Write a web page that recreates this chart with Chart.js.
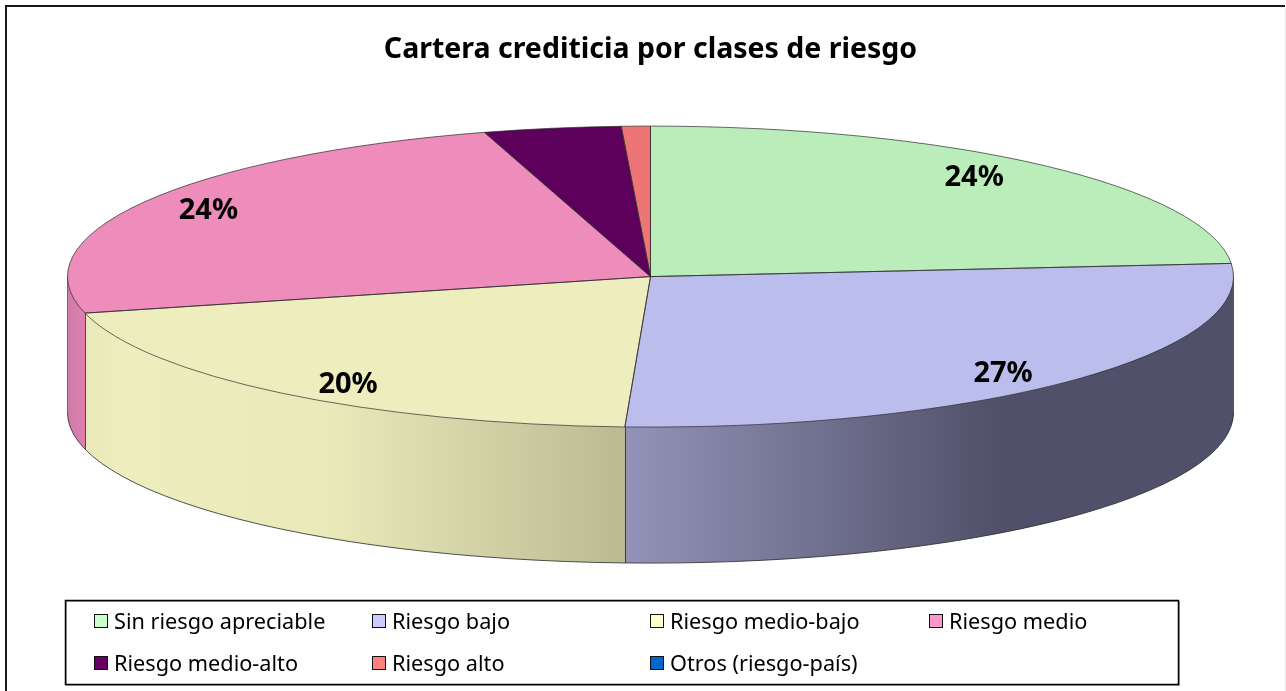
<!DOCTYPE html>
<html lang="es">
<head>
<meta charset="UTF-8">
<title>Cartera crediticia por clases de riesgo</title>
<script src="https://cdn.jsdelivr.net/npm/chart.js"></script>
<style>
    html, body { margin: 0; padding: 0; background: #fff; overflow: hidden; }
    canvas { display: block; }
</style>
</head>
<body>
<canvas id="pieChart" width="1286" height="691"></canvas>
<script>
const categories = ['Sin riesgo apreciable', 'Riesgo bajo', 'Riesgo medio-bajo', 'Riesgo medio', 'Riesgo medio-alto', 'Riesgo alto', 'Otros (riesgo-país)'];
const shares = [23.6, 27.1, 20.4, 24.3, 3.8, 0.8, 0];
const topColors = ['#BBEDBB', '#BBBDEC', '#EDEDBD', '#EE8CBB', '#5C005C', '#EE7575', '#0058B0'];
const legendColors = ['#CCFFCC', '#CCCCFF', '#FFFFCC', '#FF99CC', '#660066', '#FF8080', '#0066CC'];

const FONT = '"Noto Sans", sans-serif';
const RX = 583, RY = 150.5, DEPTH = 136;
// horizontal label pull, excel places these by hand
const labelPullX = [0.822, 0.837, 0.82, 0.873, 0, 0, 0];
const labelPullY = 0.91;

// side wall shading per slice, stops in page x
const wallStops = {
    1: [[625, '#9393B8'], [1000, '#50506A'], [1234, '#50506A']],
    2: [[66, '#E6E6B8'], [120, '#EDEDBD'], [330, '#E9E9BA'], [625, '#BBBB93']],
    3: [[66, '#C87CA6'], [72, '#D47CAA'], [84, '#DC7FB0']]
};

const pie3d = {
    id: 'pie3d',
    beforeDraw(chart) {
        const ctx = chart.ctx;
        ctx.save();
        ctx.fillStyle = '#fff';
        ctx.fillRect(0, 0, chart.width, chart.height);
        // frame is cut off by the screenshot: only top and left show dark
        ctx.fillStyle = '#1a1a1a';
        ctx.fillRect(5, 5, 1280, 2);
        ctx.fillRect(5, 5, 2, 686);
        ctx.fillStyle = '#e8e8e8';
        ctx.fillRect(1285, 7, 1, 684);
        ctx.restore();
    },
    beforeDatasetsDraw(chart) {
        const ctx = chart.ctx;
        const arcs = chart.getDatasetMeta(0).data;
        const { x: cx, y: cy, outerRadius: R } = arcs[0];
        const sx = RX / R, sy = RY / R;
        const squash = (dy) => {
            ctx.translate(cx, cy + dy);
            ctx.scale(sx, sy);
            ctx.translate(-cx, -cy);
        };

        // wall: same arcs stacked downward, bottom layer first
        for (let d = DEPTH; d > 0; d--) {
            Object.keys(wallStops).forEach(i => {
                const arc = arcs[i];
                ctx.save();
                squash(d);
                const stops = wallStops[i];
                const first = stops[0][0], last = stops[stops.length - 1][0];
                const g = ctx.createLinearGradient(cx + (first - cx) / sx, 0, cx + (last - cx) / sx, 0);
                stops.forEach(s => g.addColorStop((s[0] - first) / (last - first), s[1]));
                const saved = arc.options;
                arc.options = Object.assign({}, saved, { backgroundColor: g, borderWidth: 0 });
                arc.draw(ctx);
                arc.options = saved;
                ctx.restore();
            });
        }

        // wall outlines
        ctx.save();
        ctx.lineWidth = 1;
        ctx.strokeStyle = 'rgba(40,40,40,0.8)';
        ctx.beginPath();
        ctx.ellipse(cx, cy + DEPTH, RX, RY, 0, 0, Math.PI);
        ctx.stroke();
        [arcs[1].endAngle, arcs[2].endAngle].forEach(a => {
            const px = Math.round(cx + RX * Math.cos(a)) + 0.5;
            const py = cy + RY * Math.sin(a);
            ctx.beginPath();
            ctx.moveTo(px, py);
            ctx.lineTo(px, py + DEPTH);
            ctx.stroke();
        });
        ctx.strokeStyle = 'rgba(90,90,90,0.7)';
        [-RX, RX].forEach(off => {
            ctx.beginPath();
            ctx.moveTo(cx + off, cy);
            ctx.lineTo(cx + off, cy + DEPTH);
            ctx.stroke();
        });
        ctx.restore();

        // top face drawn by chart.js itself under this transform
        ctx.save();
        squash(0);
    },
    afterDatasetsDraw(chart) {
        const ctx = chart.ctx;
        ctx.restore();

        const arcs = chart.getDatasetMeta(0).data;
        const { x: cx, y: cy } = arcs[0];
        ctx.save();
        ctx.lineWidth = 1;
        ctx.strokeStyle = 'rgba(45,45,45,0.7)';
        arcs.forEach(arc => {
            if (arc.circumference === 0) return;
            ctx.beginPath();
            ctx.moveTo(cx, cy);
            ctx.ellipse(cx, cy, RX, RY, 0, arc.startAngle, arc.endAngle);
            ctx.closePath();
            ctx.stroke();
        });

        // percent labels, small slices have none
        const total = shares.reduce((a, b) => a + b, 0);
        ctx.fillStyle = '#000';
        ctx.font = 'bold 29px ' + FONT;
        ctx.textAlign = 'center';
        ctx.textBaseline = 'middle';
        arcs.forEach((arc, i) => {
            const pct = Math.round(shares[i] / total * 100);
            if (pct < 5) return;
            const mid = (arc.startAngle + arc.endAngle) / 2;
            ctx.fillText(pct + '%', cx + RX * labelPullX[i] * Math.cos(mid), cy + 2 + RY * labelPullY * Math.sin(mid));
        });
        ctx.restore();
    },
    afterDraw(chart) {
        const ctx = chart.ctx;
        ctx.save();
        ctx.fillStyle = '#fff';
        ctx.fillRect(65, 600, 1114, 85);
        ctx.strokeStyle = '#aaa';
        ctx.lineWidth = 1;
        ctx.strokeRect(66.5, 601.5, 1113, 84);
        ctx.strokeStyle = '#000';
        ctx.lineWidth = 1.5;
        ctx.strokeRect(65.5, 600.5, 1113, 84);

        const colX = [95, 373, 651, 930];
        const rowY = [621, 663];
        ctx.font = '21.7px ' + FONT;
        ctx.textBaseline = 'middle';
        ctx.textAlign = 'left';
        ctx.lineWidth = 1;
        categories.forEach((name, i) => {
            const x = colX[i % 4], y = rowY[Math.floor(i / 4)];
            ctx.fillStyle = legendColors[i];
            ctx.fillRect(x - 0.5, y - 6.5, 13, 13);
            ctx.strokeStyle = '#111';
            ctx.strokeRect(x - 0.5, y - 6.5, 13, 13);
            ctx.fillStyle = '#000';
            ctx.fillText(name, x + 19, y + 2);
        });
        ctx.restore();
    }
};

new Chart(document.getElementById('pieChart'), {
    type: 'pie',
    data: {
        labels: categories,
        datasets: [{
            data: shares,
            backgroundColor: topColors,
            borderWidth: 0
        }]
    },
    options: {
        responsive: false,
        animation: false,
        layout: { padding: { top: 0, bottom: 264, left: 15, right: 0 } },
        plugins: {
            legend: { display: false },
            tooltip: { enabled: false },
            title: {
                display: true,
                text: 'Cartera crediticia por clases de riesgo',
                color: '#000',
                font: { family: FONT, size: 28.5, weight: 'bold' },
                padding: { top: 33, bottom: 59 }
            }
        }
    },
    plugins: [pie3d]
});
</script>
</body>
</html>
